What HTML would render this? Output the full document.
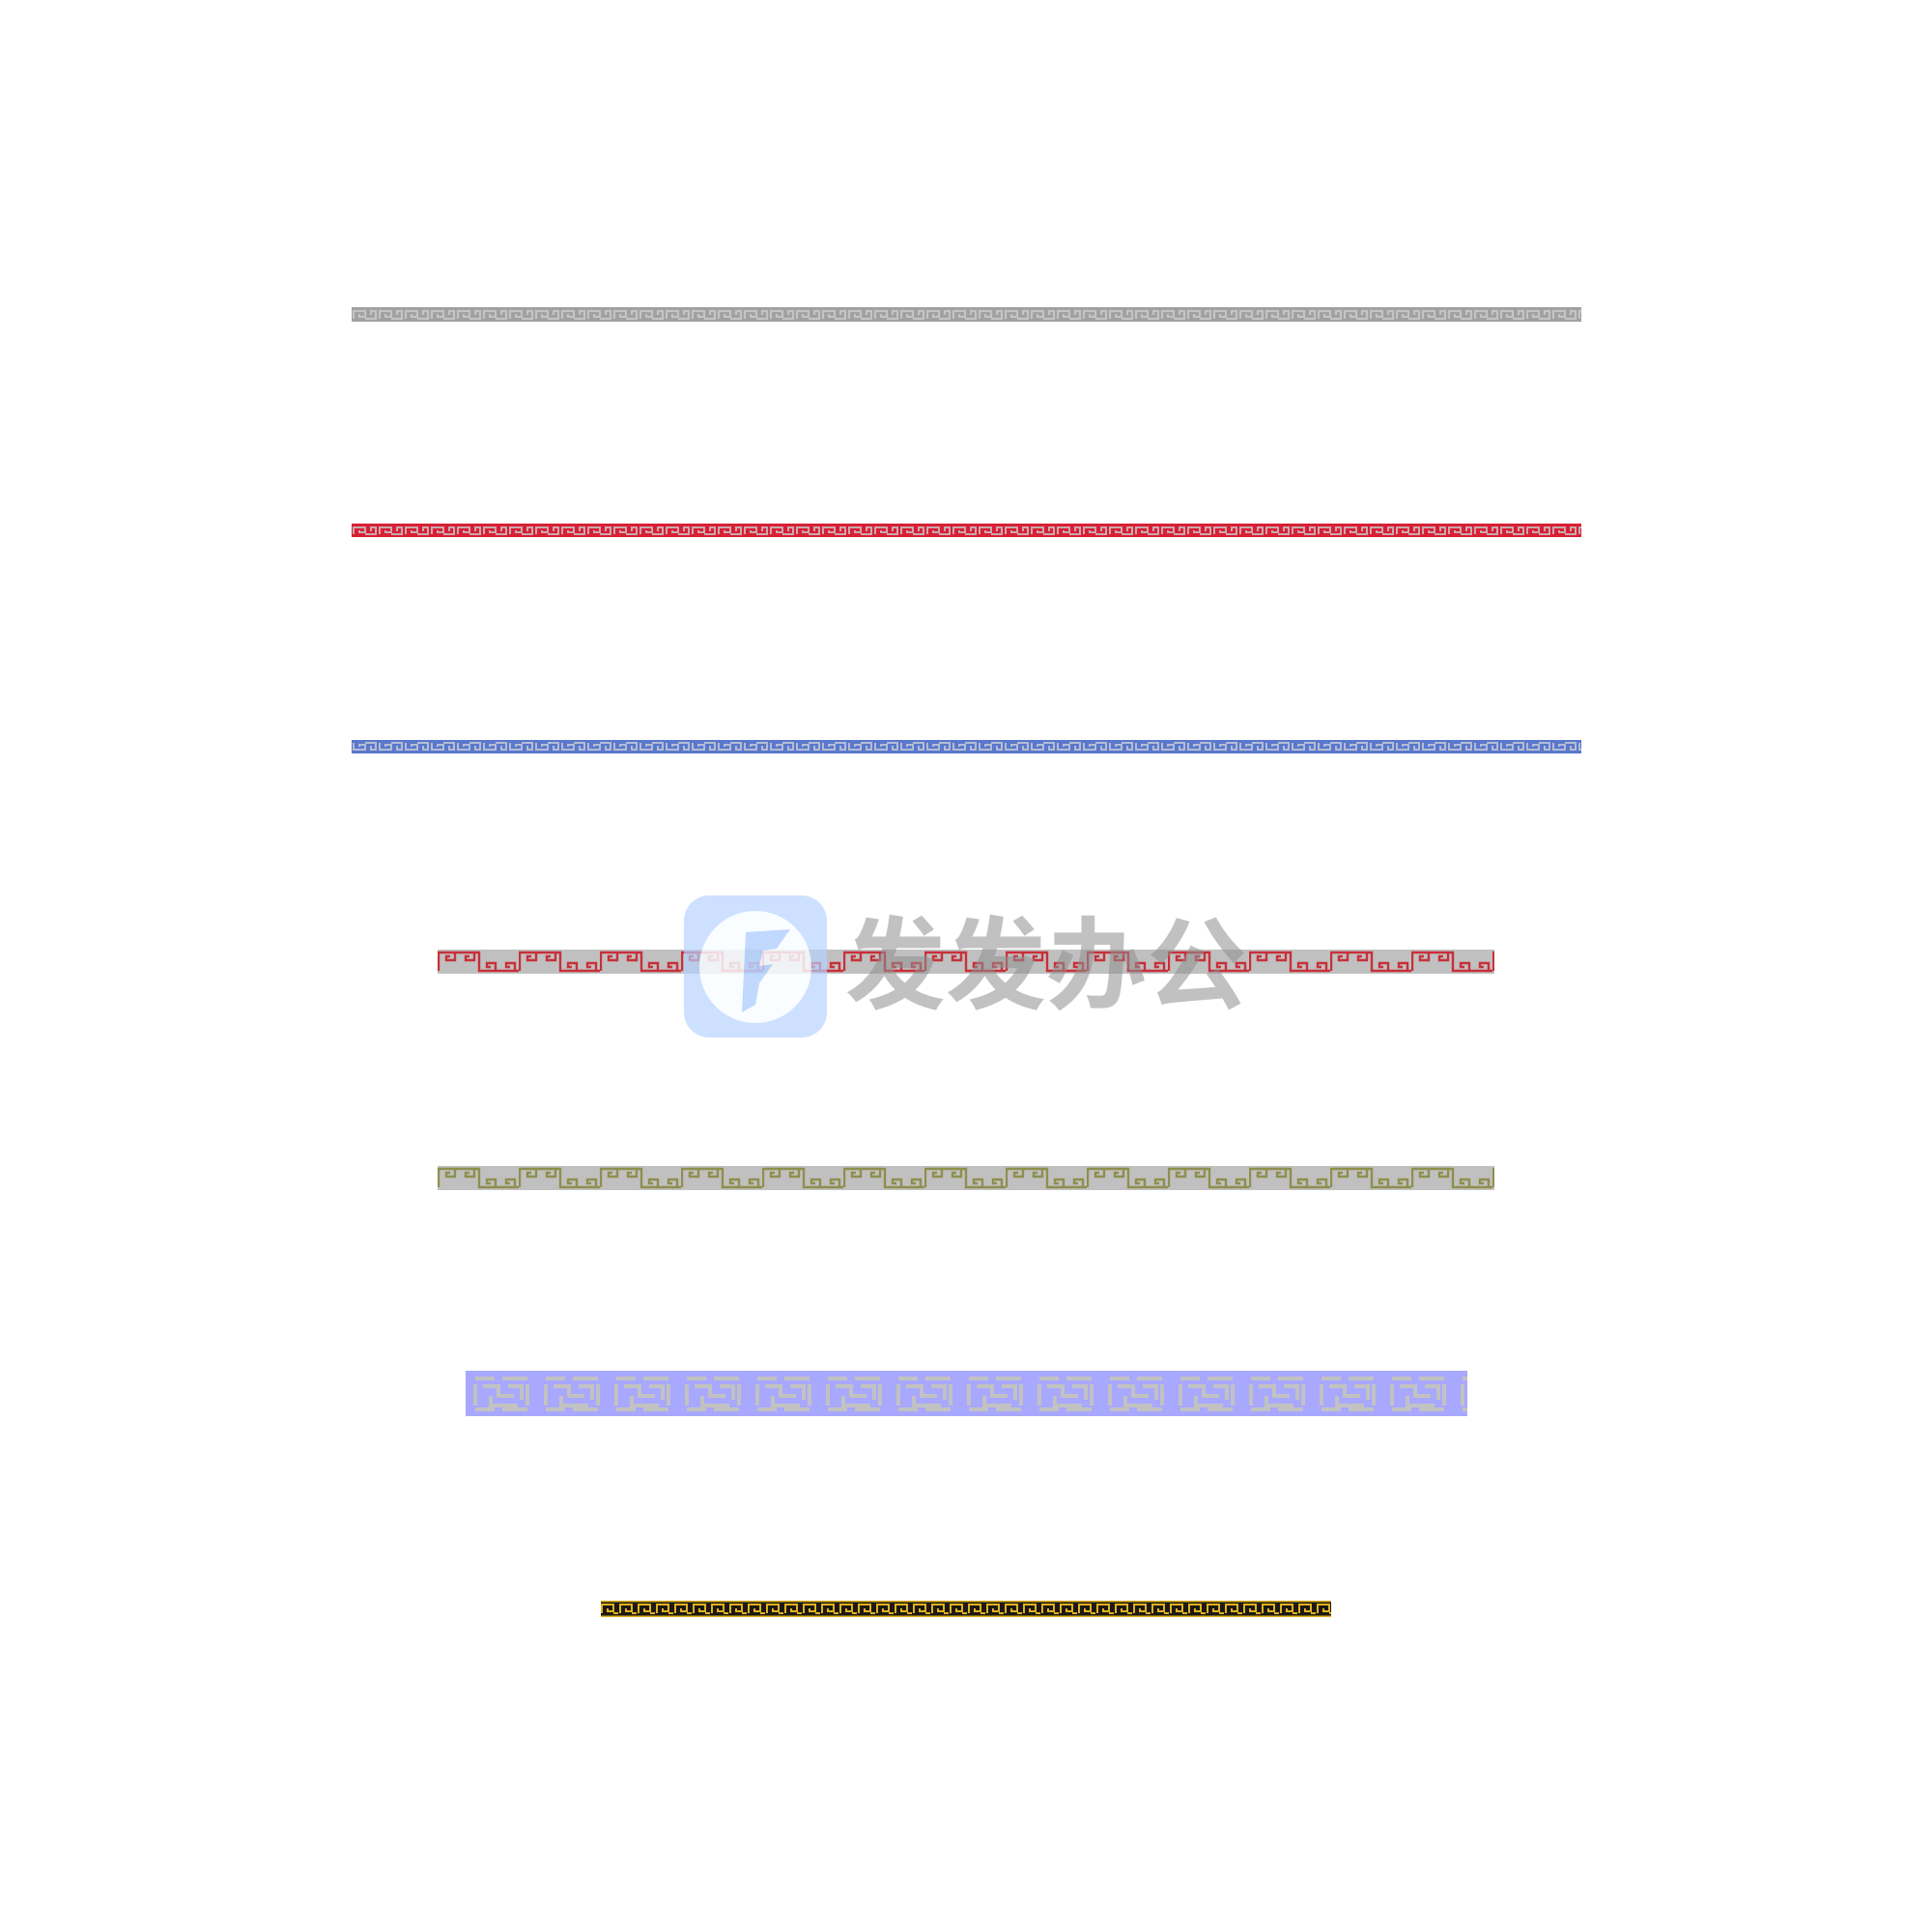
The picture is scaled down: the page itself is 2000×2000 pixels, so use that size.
<!DOCTYPE html>
<html><head><meta charset="utf-8"><style>
html,body{margin:0;padding:0;background:#fff;width:2000px;height:2000px;overflow:hidden}
svg{position:absolute;left:0;top:0}
</style></head><body>
<svg width="2000" height="2000" viewBox="0 0 2000 2000" xmlns="http://www.w3.org/2000/svg">
<defs>
<pattern id="p1" x="364" y="318" width="27" height="15" patternUnits="userSpaceOnUse">
<rect width="27" height="15" fill="#a0a0a0"/>
<path d="M2 12 V4 H14 V10 H8 V7 M14 12 H25 V4 H20 V8" fill="none" stroke="#c4c4c4" stroke-width="2.2"/>
</pattern>
<pattern id="p2" x="364" y="542" width="27" height="14" patternUnits="userSpaceOnUse">
<rect width="27" height="14" fill="#d81f35"/>
<path d="M2 11 V4 H14 V9 H8 V7 M14 11 H25 V4 H20 V8" fill="none" stroke="#c9a8ad" stroke-width="2"/>
</pattern>
<pattern id="p3" x="364" y="766" width="27" height="14" patternUnits="userSpaceOnUse">
<rect width="27" height="14" fill="#5a78cc"/>
<path d="M2 3 V10 H14 V5 H8 V7 M14 3 H25 V10 H20 V6" fill="none" stroke="#b4bcd4" stroke-width="2"/>
</pattern>
<pattern id="p4" x="453" y="983" width="84" height="25" patternUnits="userSpaceOnUse">
<rect width="84" height="25" fill="#c0c0c0"/>
<path d="M1 22 V3 H18 V11 H9 V7 H13 M18 3 H38 V11 H29 V7 H33 M38 3 H43 V22 H60 V14 H51 V18 H55 M60 22 H80 V14 H71 V18 H75 M80 22 H85" fill="none" stroke="#c8303a" stroke-width="2.4"/>
</pattern>
<pattern id="p5" x="453" y="1207" width="84" height="25" patternUnits="userSpaceOnUse">
<rect width="84" height="25" fill="#c0c0c0"/>
<path d="M1 22 V3 H18 V11 H9 V7 H13 M18 3 H38 V11 H29 V7 H33 M38 3 H43 V22 H60 V14 H51 V18 H55 M60 22 H80 V14 H71 V18 H75 M80 22 H85" fill="none" stroke="#8f8f4e" stroke-width="2.4"/>
</pattern>
<pattern id="p6" x="482" y="1419" width="73" height="47" patternUnits="userSpaceOnUse">
<rect width="73" height="47" fill="#a8a8ff"/>
<g fill="none" stroke="#c2c2c2" stroke-width="4">
<path d="M10 8 H30 M38 8 H64 M10 14 V36 M18 16 H34 V26 H50 M44 16 H58 V30 M26 26 V36 H54 M64 14 V36 M10 40 H30 M38 40 H64"/>
</g>
</pattern>
<pattern id="p7" x="622" y="1657" width="19" height="17" patternUnits="userSpaceOnUse">
<rect width="19" height="17" fill="#1c1a10"/>
<path d="M1 13 V4 H13 V11 H7 V8 M13 13 H18" fill="none" stroke="#e0b020" stroke-width="2"/>
<rect width="19" height="1.5" fill="#e0b020"/>
<rect y="15.5" width="19" height="1.5" fill="#e0b020"/>
</pattern>
</defs>
<rect x="364" y="318" width="1273" height="15" fill="url(#p1)"/>
<rect x="364" y="542" width="1273" height="14" fill="url(#p2)"/>
<rect x="364" y="766" width="1273" height="14" fill="url(#p3)"/>
<rect x="453" y="983" width="1094" height="25" fill="url(#p4)"/>
<rect x="453" y="1207" width="1094" height="25" fill="url(#p5)"/>
<rect x="482" y="1419" width="1037" height="47" fill="url(#p6)"/>
<rect x="622" y="1657" width="756" height="17" fill="url(#p7)"/>
<g opacity="0.85">
<rect x="708" y="927" width="148" height="147" rx="26" fill="#b7d2ff" opacity="0.8"/>
<circle cx="782" cy="1001" r="58" fill="#fff" opacity="0.9"/>
<path d="M772 965 L818 962 L804 982 L790 984 L786 1000 L800 998 L786 1018 L782 1040 L768 1048 Z" fill="#b7d2ff"/>
</g>
<text x="875" y="1036" font-family="'Noto Sans CJK SC','WenQuanYi Zen Hei',sans-serif" font-weight="bold" font-size="104" fill="#909090" opacity="0.55">发发办公</text>
</svg>
</body></html>
